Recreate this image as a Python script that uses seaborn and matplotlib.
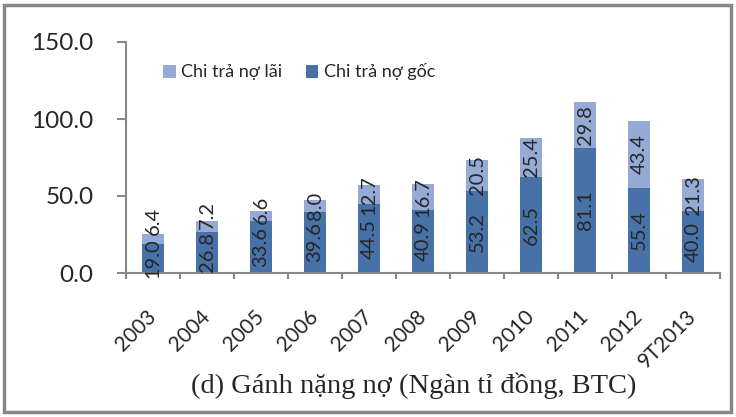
import matplotlib
matplotlib.use('Agg')
import matplotlib.pyplot as plt
import numpy as np
import seaborn as sns
from matplotlib.patches import Rectangle

years = ['2003', '2004', '2005', '2006', '2007', '2008', '2009', '2010', '2011', '2012', '9T2013']
no_goc = [19.0, 26.8, 33.6, 39.6, 44.5, 40.9, 53.2, 62.5, 81.1, 55.4, 40.0]
no_lai = [6.4, 7.2, 6.6, 8.0, 12.7, 16.7, 20.5, 25.4, 29.8, 43.4, 21.3]

c_goc = '#4672a8'
c_lai = '#95aad4'
c_axis = '#878787'

sns.set_style('white')
plt.rcParams['font.family'] = ['Lato', 'DejaVu Sans']

tong = [g + l for g, l in zip(no_goc, no_lai)]

fig = plt.figure(figsize=(7.36, 4.17), dpi=100)
ax = fig.add_axes([126 / 736, (417 - 273) / 417, 594 / 736, 231 / 417])

sns.barplot(x=years, y=tong, color=c_lai, saturation=1, width=0.4, ax=ax,
            linewidth=0, label='Chi trả nợ lãi')
sns.barplot(x=years, y=no_goc, color=c_goc, saturation=1, width=0.4, ax=ax,
            linewidth=0, label='Chi trả nợ gốc')

ax.set_ylim(0, 150)
ax.set_xlim(-0.5, len(years) - 0.5)

# nhan so lieu: giua moi doan, day nhan lai len neu chong len nhan goc
pairs = []
for i, (g, l) in enumerate(zip(no_goc, no_lai)):
    tg = ax.text(i, g / 2, '%.1f' % g, rotation=90, ha='center', va='center', fontsize=14.5)
    tl = ax.text(i, g + l / 2, '%.1f' % l, rotation=90, ha='center', va='center', fontsize=14.5)
    pairs.append((tg, tl))

fig.canvas.draw()
r = fig.canvas.get_renderer()
inv = ax.transData.inverted()
for tg, tl in pairs:
    bg = tg.get_window_extent(r)
    bl = tl.get_window_extent(r)
    gap = 3
    if bl.y0 < bg.y1 + gap:
        x, y = tl.get_position()
        px, py = ax.transData.transform((x, y))
        py += bg.y1 + gap - bl.y0
        tl.set_position((x, inv.transform((px, py))[1]))

ax.set_yticks([0, 50, 100, 150])
ax.set_yticklabels(['%.1f' % v for v in [0, 50, 100, 150]], fontsize=17.5)
ax.set_xticks(range(len(years)))
ax.set_xticklabels(years, rotation=45, ha='right', va='center',
                   rotation_mode='anchor', fontsize=15)
ax.set_xticks(np.arange(-0.5, len(years), 1), minor=True)
ax.tick_params(axis='x', which='major', length=0, pad=29)
ax.tick_params(axis='x', which='minor', length=4.5, width=1.5, color=c_axis, bottom=True)
ax.tick_params(axis='y', length=6.5, width=1.5, color=c_axis, pad=17, left=True)
ax.set_xlabel('')
ax.set_ylabel('')

sns.despine(ax=ax)
for s in ['left', 'bottom']:
    ax.spines[s].set_color(c_axis)
    ax.spines[s].set_linewidth(1.5)

handles, labels = ax.get_legend_handles_labels()
ax.legend(handles, labels, loc='center left', bbox_to_anchor=(163 / 736, 1 - 72 / 417),
          bbox_transform=fig.transFigure, ncol=2, frameon=False, fontsize=13,
          handlelength=0.7, handleheight=0.7, handletextpad=0.3, columnspacing=1.3,
          borderpad=0, borderaxespad=0)

fig.text(414 / 736, 24 / 417, '(d) Gánh nặng nợ (Ngàn tỉ đồng, BTC)', ha='center',
         va='baseline', fontsize=20.5, family=['Liberation Serif', 'DejaVu Serif'])

fig.patches.append(Rectangle((4 / 736, 5 / 417), 727 / 736, 407 / 417, transform=fig.transFigure,
                             fill=False, edgecolor=c_axis, linewidth=2.5))

fig.savefig('out.png', dpi=100)
